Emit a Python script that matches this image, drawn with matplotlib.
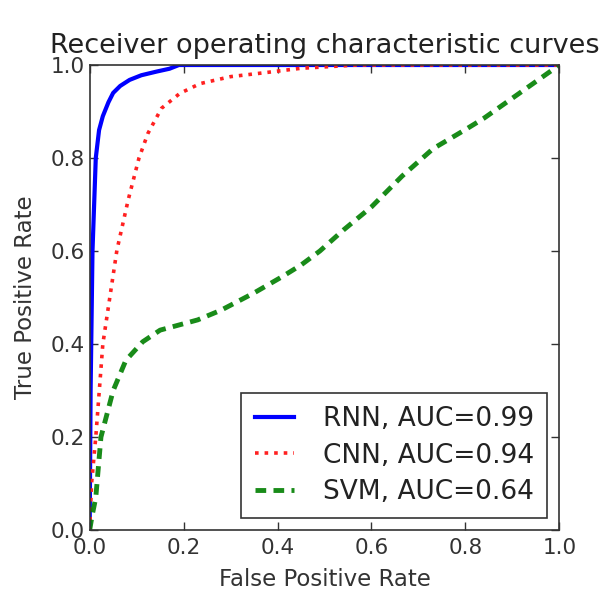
import matplotlib
matplotlib.use('Agg')
import matplotlib.pyplot as plt

# ROC-точки
rnn_fpr = [0, 0.002, 0.006, 0.013, 0.02, 0.028, 0.04, 0.05, 0.065, 0.085, 0.11, 0.143, 0.17, 0.19, 1.0]
rnn_tpr = [0, 0.3, 0.6, 0.8, 0.86, 0.89, 0.92, 0.94, 0.955, 0.968, 0.978, 0.986, 0.992, 1.0, 1.0]

cnn_fpr = [0, 0.004, 0.013, 0.028, 0.058, 0.082, 0.105, 0.124, 0.153, 0.192, 0.235, 0.30, 0.377, 0.45, 0.57, 1.0]
cnn_tpr = [0, 0.1, 0.2, 0.4, 0.602, 0.71, 0.8, 0.853, 0.907, 0.939, 0.96, 0.975, 0.984, 0.993, 1.0, 1.0]

svm_fpr = [0, 0.005, 0.013, 0.024, 0.05, 0.077, 0.113, 0.15, 0.23, 0.28, 0.35, 0.41, 0.45, 0.49,
           0.54, 0.60, 0.665, 0.731, 0.803, 0.84, 0.913, 1.0]
svm_tpr = [0, 0.03, 0.07, 0.2, 0.3, 0.365, 0.405, 0.43, 0.452, 0.473, 0.51, 0.545, 0.57, 0.60,
           0.645, 0.695, 0.761, 0.82, 0.863, 0.886, 0.938, 1.0]

labels = ['RNN, AUC=0.99', 'CNN, AUC=0.94', 'SVM, AUC=0.64']
ticks = [0.0, 0.2, 0.4, 0.6, 0.8, 1.0]

plt.rcParams['font.family'] = 'DejaVu Sans'
plt.rcParams['xtick.direction'] = 'in'
plt.rcParams['ytick.direction'] = 'in'

fig = plt.figure(figsize=(6.1, 5.91), dpi=100)
ax = fig.add_axes([0.147, 0.103, 0.77, 0.787])

ax.plot(rnn_fpr, rnn_tpr, color='#0000ff', linestyle='-', linewidth=3, label=labels[0])
ax.plot(cnn_fpr, cnn_tpr, color='#ff2020', linestyle=':', linewidth=2.6, label=labels[1])
ax.plot(svm_fpr, svm_tpr, color='#007f00', linestyle='--', linewidth=3.5, dashes=(2.2, 1.5),
        alpha=0.9, label=labels[2])

ax.set_xlim(0, 1)
ax.set_ylim(0, 1)
ax.set_xticks(ticks)
ax.set_yticks(ticks)
ax.set_xticklabels([f'{t:.1f}' for t in ticks])
ax.set_yticklabels([f'{t:.1f}' for t in ticks])
ax.tick_params(top=True, right=True, labelsize=15.5, colors='#333333', length=6, width=1)
ax.tick_params(axis='x', pad=6)
for s in ax.spines.values():
    s.set_color('#333333')
    s.set_linewidth(1.2)

ax.set_xlabel('False Positive Rate', fontsize=16.5, color='#333333', labelpad=7)
ax.set_ylabel('True Positive Rate', fontsize=16.5, color='#333333', labelpad=10)
ax.set_title('Receiver operating characteristic curves', fontsize=19.5, color='#222222', pad=9)

leg = ax.legend(loc='lower right', fontsize=19, fancybox=False, framealpha=1,
                edgecolor='#333333', handlelength=1.5, borderpad=0.5, labelspacing=0.4,
                handletextpad=1.1, borderaxespad=0.45)
leg.get_frame().set_linewidth(1.2)
for t in leg.get_texts():
    t.set_color('#222222')

fig.savefig('out.png', dpi=100, facecolor='white')
